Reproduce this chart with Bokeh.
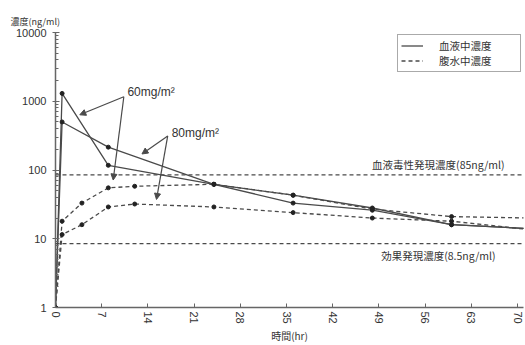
from bokeh.plotting import figure
from bokeh.models import (Range1d, FixedTicker, PrintfTickFormatter, Span, Label,
                          Arrow, NormalHead, Legend, LegendItem, ColumnDataSource)
from bokeh.embed import file_html
from bokeh.resources import INLINE

# ---- data ----
hours_blood = [0, 1, 8, 24, 36, 48, 60, 72]
blood_60 = [1, 1300, 117, 62, 33, 26, 16, 14]
blood_80 = [1, 500, 215, 62, 43, 28, 16, 14]

hours_ascites = [0, 1, 4, 8, 12, 24, 36, 48, 60, 72]
ascites_60 = [1, 18, 33, 55, 58, 62, 43, 27, 21, 20]
ascites_80 = [1, 11.5, 16, 29, 32, 29, 24, 20, 18, 13.5]

x_ticks = [0, 7, 14, 21, 28, 35, 42, 49, 56, 63, 70]
y_ticks = [1, 10, 100, 1000, 10000]
toxic_level = 85
effect_level = 8.5

legend_labels = ["血液中濃度", "腹水中濃度"]
dose_labels = ["60mg/m²", "80mg/m²"]
toxic_label = "血液毒性発現濃度(85ng/ml)"
effect_label = "効果発現濃度(8.5ng/ml)"
x_title = "時間(hr)"
y_title = "濃度(ng/ml)"

LINE = "#4a4a4a"
TXT = "#333333"
JP = "Noto Sans CJK JP"
LAT = "Liberation Sans"

p = figure(width=525, height=345, output_backend="svg", toolbar_location=None,
           y_axis_type="log", x_range=Range1d(0, 70.9), y_range=Range1d(1, 10000),
           min_border_left=55, min_border_top=32, min_border_right=2,
           min_border_bottom=36)
p.outline_line_color = None
p.grid.grid_line_color = None
p.background_fill_color = "white"

# title used as y label at top-left
p.title.text = y_title
p.title.text_font = JP
p.title.text_font_size = "9px"
p.title.text_font_style = "normal"
p.title.text_color = TXT
p.title.align = "left"
p.title.offset = -45
p.title.standoff = 10

# axes
minor = [m * d for d in [1, 10, 100, 1000] for m in range(2, 10)]
p.yaxis.ticker = FixedTicker(ticks=y_ticks, minor_ticks=minor)
p.yaxis.formatter = PrintfTickFormatter(format="%d")
p.xaxis.ticker = FixedTicker(ticks=x_ticks)
p.xaxis.major_label_orientation = "vertical"
for ax in (p.xaxis[0], p.yaxis[0]):
    ax.axis_line_color = "#666666"
    ax.axis_line_width = 1.5
    ax.major_tick_line_color = "#666666"
    ax.minor_tick_line_color = "#666666"
    ax.major_label_text_font = LAT
    ax.major_label_text_font_size = "11px"
    ax.major_label_text_color = TXT
p.yaxis.major_tick_in = 4
p.yaxis.major_tick_out = 3
p.yaxis.minor_tick_in = 3
p.yaxis.minor_tick_out = 0
p.yaxis.major_label_standoff = 6
p.xaxis.major_tick_in = 4
p.xaxis.major_tick_out = 0
p.xaxis.minor_tick_line_color = None
p.xaxis.major_label_standoff = 4
p.xaxis.axis_label = x_title
p.xaxis.axis_label_text_font = JP
p.xaxis.axis_label_text_font_size = "10px"
p.xaxis.axis_label_text_font_style = "normal"
p.xaxis.axis_label_text_color = TXT
p.xaxis.axis_label_standoff = 1

# reference lines
for lvl in (toxic_level, effect_level):
    p.add_layout(Span(location=lvl, dimension="width", line_color=LINE,
                      line_dash="4 3", line_width=1.2))
p.add_layout(Label(x=58, y=toxic_level, y_offset=3, text=toxic_label,
                   text_align="center", text_baseline="bottom", text_font=JP,
                   text_font_size="10.5px", text_color=TXT))
p.add_layout(Label(x=58, y=effect_level, y_offset=-4, text=effect_label,
                   text_align="center", text_baseline="top", text_font=JP,
                   text_font_size="10.5px", text_color=TXT))

# series
rs = []
for ys in (blood_60, blood_80):
    src = ColumnDataSource(dict(x=hours_blood, y=ys))
    r = p.line("x", "y", source=src, line_color=LINE, line_width=1.3)
    p.scatter("x", "y", source=src, size=4, color="#222222")
    rs.append(r)
solid_r = rs[0]
rs = []
for ys in (ascites_60, ascites_80):
    src = ColumnDataSource(dict(x=hours_ascites, y=ys))
    r = p.line("x", "y", source=src, line_color=LINE, line_width=1.3, line_dash="4 3")
    p.scatter("x", "y", source=src, size=4, color="#222222")
    rs.append(r)
dash_r = rs[0]

leg = Legend(items=[LegendItem(label=legend_labels[0], renderers=[solid_r]),
                    LegendItem(label=legend_labels[1], renderers=[dash_r])],
             location="top_right", margin=2, padding=3, spacing=0,
             label_text_font=JP, label_text_font_size="10.5px", label_text_color=TXT,
             label_text_line_height=1.0,
             glyph_width=22, glyph_height=11, label_height=11, label_width=78,
             label_standoff=16,
             border_line_color="#555555", border_line_width=1.2,
             background_fill_alpha=1)
p.add_layout(leg)

# dose annotations
p.add_layout(Label(x=10.9, y=1377, text=dose_labels[0], text_baseline="middle",
                   text_font=LAT, text_font_size="12px", text_color=TXT))
p.add_layout(Label(x=17.6, y=351, text=dose_labels[1], text_baseline="middle",
                   text_font=LAT, text_font_size="12px", text_color=TXT))
arrows = [((10.35, 1161), (3.68, 635)), ((10.35, 1161), (8.74, 71.5)),
          ((17.0, 313), (13.1, 171)), ((17.0, 313), (15.3, 37.3))]
for (xs, ys), (xe, ye) in arrows:
    p.add_layout(Arrow(x_start=xs, y_start=ys, x_end=xe, y_end=ye,
                       line_color=LINE, line_width=1.2,
                       end=NormalHead(size=6, fill_color=LINE, line_color=LINE)))

open("out.html", "w").write(file_html(p, INLINE))
